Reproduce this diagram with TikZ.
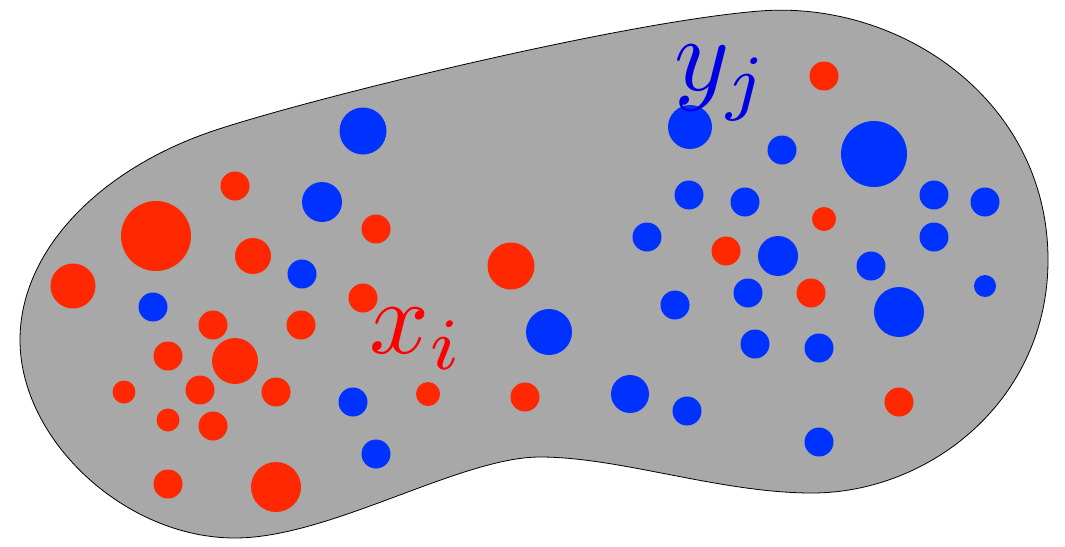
\documentclass[tikz,border=0pt]{standalone}
\usepackage{amsmath}
\usepackage{tikz}
\usetikzlibrary{calc}

\definecolor{dotred}{RGB}{255,40,0}
\definecolor{dotblue}{RGB}{0,50,255}
\definecolor{blobgray}{RGB}{168,168,168}

\begin{document}
\begin{tikzpicture}[x=1pt, y=-1pt]
    \useasboundingbox (0,0) rectangle (1065,546);
    % the region
    \filldraw[fill=blobgray, draw=black, line width=0.8pt]
        (20,340) .. controls (20,250) and (100,170) .. (210,132)
        .. controls (300,101) and (620,22) .. (760,11)
        .. controls (900,0) and (1048,100) .. (1048,260)
        .. controls (1048,400) and (930,493) .. (812,493)
        .. controls (720,493) and (620,457) .. (540,457)
        .. controls (460,457) and (330,538) .. (235,538)
        .. controls (125,538) and (20,440) .. (20,340) -- cycle;
    % red points x_i
    \foreach \px/\py/\r in {73/286/22.5, 156/236/35, 235/186/14.5, 253/256/18, 376/229/14.5,
        363/298/14.5, 213/325/14.5, 301/325/14.5, 168/356/14.5, 235/361/23, 124/392/11.5,
        200/390/14.5, 276/392/14.5, 168/420/11.5, 213/426/14.5, 168/484/14.5, 276/487/25,
        428/394/12, 511/266/23.5, 525/397/14.5, 824/76/14.5, 824/219/12, 726/251/14.5,
        811/293/14.5, 899/402/14.5} {
        \fill[dotred] (\px,\py) circle[radius=\r];
    }
    % blue points y_j
    \foreach \px/\py/\r in {363/131/23.5, 322/202/20, 302/274/14.5, 153/307/14.5, 353/402/14.5,
        376/454/14.5, 549/332/23, 690/127/22, 782/150/14.5, 874/154/33, 689/195/14.5,
        745/202/14.5, 934/195/14.5, 985/202/14.5, 934/237/14.5, 647/237/14.5, 778/256/20,
        871/266/14.5, 985/286/11, 748/293/14.5, 675/305/14.5, 899/312/25, 755/344/14.5,
        819/348/14.5, 630/394/19, 687/411/14.5, 819/442/14.5} {
        \fill[dotblue] (\px,\py) circle[radius=\r];
    }
    % labels
    \node[text=red, scale=10.5, inner sep=0pt] (xlabel) at (417,339) {$x_i$};
    \node[text=blue!90!black, scale=10.5, inner sep=0pt] (ylabel) at (722,83) {$y_j$};
\end{tikzpicture}
\end{document}
